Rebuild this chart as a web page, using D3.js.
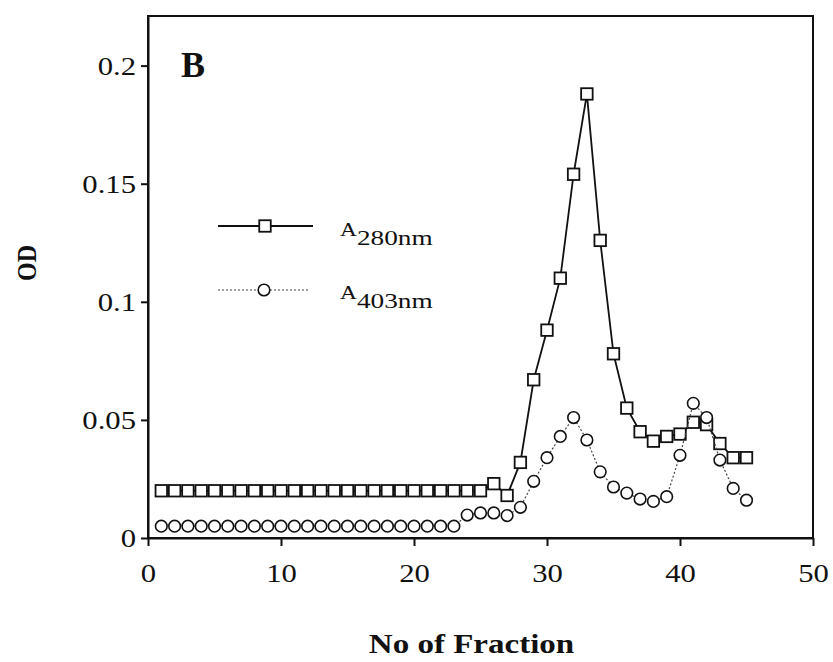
<!DOCTYPE html>
<html>
<head>
<meta charset="utf-8">
<script src="https://cdn.jsdelivr.net/npm/d3@7"></script>
<style>
  body { margin: 0; background: #fff; }
  text { font-family: "Liberation Serif", "Times New Roman", serif; fill: #111; }
</style>
</head>
<body>
<div id="chart"></div>
<script>
// fraction numbers 1..45
var fractions = [1,2,3,4,5,6,7,8,9,10,11,12,13,14,15,16,17,18,19,20,21,22,23,24,25,26,27,28,29,30,31,32,33,34,35,36,37,38,39,40,41,42,43,44,45];
var a280 = [0.020,0.020,0.020,0.020,0.020,0.020,0.020,0.020,0.020,0.020,0.020,0.020,0.020,0.020,0.020,0.020,0.020,0.020,0.020,0.020,0.020,0.020,0.020,0.020,0.020,
            0.023,0.018,0.032,0.067,0.088,0.110,0.154,0.188,0.126,0.078,0.055,0.045,0.041,0.043,0.044,0.049,0.048,0.040,0.034,0.034];
var a403 = [0.005,0.005,0.005,0.005,0.005,0.005,0.005,0.005,0.005,0.005,0.005,0.005,0.005,0.005,0.005,0.005,0.005,0.005,0.005,0.005,0.005,0.005,0.005,
            0.0097,0.0106,0.0106,0.0095,0.013,0.024,0.034,0.043,0.051,0.0415,0.028,0.0216,0.019,0.0165,0.0155,0.0175,0.035,0.057,0.051,0.033,0.021,0.016];
var xTicks = [0,10,20,30,40,50];
var yTicks = [0,0.05,0.1,0.15,0.2];

var W = 833, H = 662;
var margin = {top: 16, right: 20, bottom: 124, left: 148};
var width = W - margin.left - margin.right,
    height = H - margin.top - margin.bottom;
var SX = 1.18; // the scan is a little stretched sideways

var x = d3.scaleLinear().domain([0, 50]).range([0, width]);
var y = d3.scaleLinear().domain([0, 0.221]).range([height, 0]);

var svg = d3.select("#chart").append("svg")
    .attr("width", W).attr("height", H)
  .append("g")
    .attr("transform", "translate(" + margin.left + "," + margin.top + ")");

// frame
svg.append("rect")
    .attr("width", width).attr("height", height)
    .attr("fill", "none").attr("stroke", "#111").attr("stroke-width", 2);

var xAxis = svg.append("g")
    .attr("transform", "translate(0," + height + ")")
    .call(d3.axisBottom(x).tickValues(xTicks).tickFormat(d3.format("d")).tickSize(8).tickSizeOuter(0));
xAxis.selectAll("text")
    .attr("y", 0)
    .attr("dy", 0)
    .attr("transform", "translate(0,44) scale(" + SX + ",1)")
    .style("font-size", "26px");

var yAxis = svg.append("g")
    .call(d3.axisLeft(y).tickValues(yTicks).tickFormat(function(d) { return d === 0 ? "0" : String(d); }).tickSize(7).tickSizeOuter(0));
yAxis.selectAll("text")
    .attr("x", 0)
    .attr("dy", "0.33em")
    .attr("transform", "translate(-12,0) scale(" + SX + ",1)")
    .style("font-size", "26px");

svg.selectAll(".domain, .tick line").attr("stroke", "#111").attr("stroke-width", 2);
svg.selectAll(".tick text").attr("fill", "#111").style("font-family", "Liberation Serif");

// labels
svg.append("text")
    .attr("transform", "translate(" + (-112) + "," + (height / 2 - 14) + ") scale(" + SX + ",1) rotate(-90)")
    .attr("text-anchor", "middle")
    .style("font-size", "24px").style("font-weight", "bold")
    .text("OD");

svg.append("text")
    .attr("transform", "translate(" + (x(25) - 9) + "," + (height + 115) + ") scale(" + SX + ",1)")
    .attr("text-anchor", "middle")
    .style("font-size", "28px").style("font-weight", "bold")
    .text("No of Fraction");

svg.append("text")
    .attr("transform", "translate(33,61)")
    .style("font-size", "36px").style("font-weight", "bold")
    .text("B");

// series
var d280 = fractions.map(function(f, i) { return {f: f, v: a280[i]}; });
var d403 = fractions.map(function(f, i) { return {f: f, v: a403[i]}; });
var line = d3.line().x(function(d) { return x(d.f); }).y(function(d) { return y(d.v); });
var S = 11.5, R = 5.8;

svg.append("path").datum(d280)
    .attr("d", line).attr("fill", "none").attr("stroke", "#111").attr("stroke-width", 1.8);
svg.selectAll(".sq").data(d280).enter().append("rect")
    .attr("x", function(d) { return x(d.f) - S / 2; })
    .attr("y", function(d) { return y(d.v) - S / 2; })
    .attr("width", S).attr("height", S)
    .attr("fill", "#fff").attr("stroke", "#111").attr("stroke-width", 1.8);

svg.append("path").datum(d403)
    .attr("d", line).attr("fill", "none").attr("stroke", "#444").attr("stroke-width", 1.2)
    .attr("stroke-dasharray", "2,2");
svg.selectAll(".ci").data(d403).enter().append("circle")
    .attr("cx", function(d) { return x(d.f); })
    .attr("cy", function(d) { return y(d.v); })
    .attr("r", R)
    .attr("fill", "#fff").attr("stroke", "#111").attr("stroke-width", 1.6);

// legend
var lg = svg.append("g").attr("transform", "translate(70,210)");
lg.append("line").attr("x1", 0).attr("x2", 95).attr("y1", 0).attr("y2", 0)
    .attr("stroke", "#111").attr("stroke-width", 1.8);
lg.append("rect").attr("x", 47 - S / 2).attr("y", -S / 2).attr("width", S).attr("height", S)
    .attr("fill", "#fff").attr("stroke", "#111").attr("stroke-width", 1.8);
lg.append("line").attr("x1", 0).attr("x2", 92).attr("y1", 64).attr("y2", 64)
    .attr("stroke", "#444").attr("stroke-width", 1.2).attr("stroke-dasharray", "2,2");
lg.append("circle").attr("cx", 46).attr("cy", 64).attr("r", R)
    .attr("fill", "#fff").attr("stroke", "#111").attr("stroke-width", 1.6);

function legendLabel(ty, sub) {
  var t = lg.append("text")
      .attr("transform", "translate(122," + ty + ") scale(1.3,1)")
      .style("font-size", "18px");
  t.append("tspan").text("A");
  t.append("tspan").attr("dy", 9).style("font-size", "21px").text(sub);
}
legendLabel(10, "280nm");
legendLabel(73, "403nm");
</script>
</body>
</html>
